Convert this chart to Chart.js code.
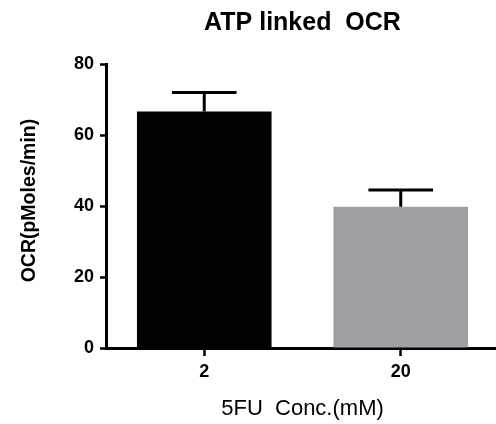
<!DOCTYPE html>
<html>
<head>
<meta charset="utf-8">
<title>ATP linked OCR</title>
<script src="https://cdn.jsdelivr.net/npm/chart.js@4/dist/chart.umd.min.js"></script>
<style>
  html, body { margin: 0; padding: 0; background: #fff; overflow: hidden; }
  #wrap { width: 499px; height: 424px; }
</style>
</head>
<body>
<div id="wrap"><canvas id="c" width="499" height="424"></canvas></div>
<script>
// Concentrations of 5FU (mM)
const categories = ['2', '20'];
// Mean ATP-linked OCR (pMoles/min)
const ocrMean = [66.6, 39.8];
// Upper error (SEM) for each mean
const ocrErr = [5.4, 4.7];
const barColors = ['#000000', '#a09fa4'];
const yTicks = [0, 20, 40, 60, 80];

const FONT = "'Liberation Sans', Arial, Helvetica, sans-serif";

// Upper-only error bars with a horizontal cap
const errorBars = {
  id: 'errorBars',
  afterDatasetsDraw(chart) {
    const ctx = chart.ctx;
    const meta = chart.getDatasetMeta(0);
    const yScale = chart.scales.y;
    ctx.save();
    ctx.strokeStyle = '#000';
    ctx.lineWidth = 3;
    ctx.lineCap = 'butt';
    meta.data.forEach((bar, i) => {
      const x = bar.x;
      const yTop = yScale.getPixelForValue(ocrMean[i] + ocrErr[i]);
      const yBase = yScale.getPixelForValue(ocrMean[i]);
      const half = bar.width * 0.24;
      ctx.beginPath();
      ctx.moveTo(x, yBase);
      ctx.lineTo(x, yTop);
      ctx.moveTo(x - half, yTop);
      ctx.lineTo(x + half, yTop);
      ctx.stroke();
    });
    ctx.restore();
  }
};

new Chart(document.getElementById('c'), {
  type: 'bar',
  data: {
    labels: categories,
    datasets: [{
      data: ocrMean,
      backgroundColor: barColors,
      borderWidth: 0,
      barPercentage: 0.685,
      categoryPercentage: 1.0
    }]
  },
  options: {
    responsive: false,
    animation: false,
    events: [],
    layout: { padding: 0 },
    plugins: {
      legend: { display: false },
      tooltip: { enabled: false },
      title: {
        display: true,
        text: 'ATP linked  OCR',
        fullSize: false,
        color: '#000',
        font: { family: FONT, size: 25, weight: 'bold' },
        padding: { top: 8, bottom: 26 }
      }
    },
    scales: {
      x: {
        offset: true,
        grid: {
          offset: false,
          drawOnChartArea: false,
          drawTicks: true,
          tickLength: 8,
          tickWidth: 2.5,
          tickColor: '#000'
        },
        border: { display: true, color: '#000', width: 3 },
        ticks: {
          color: '#000',
          padding: 5,
          font: { family: FONT, size: 18, weight: 'bold' }
        },
        title: {
          display: true,
          text: '5FU  Conc.(mM)',
          color: '#000',
          font: { family: FONT, size: 22, weight: 'normal' },
          padding: { top: 0, bottom: 2 }
        },
        afterFit(scale) { scale.height = 76; }
      },
      y: {
        min: 0,
        max: 80,
        afterBuildTicks(scale) { scale.ticks = yTicks.map(v => ({ value: v })); },
        grid: {
          drawOnChartArea: false,
          drawTicks: true,
          tickLength: 6,
          tickWidth: 2.5,
          tickColor: '#000'
        },
        border: { display: true, color: '#000', width: 3 },
        ticks: {
          color: '#000',
          padding: 6,
          font: { family: FONT, size: 18, weight: 'bold' }
        },
        title: {
          display: true,
          text: '  OCR(pMoles/min)',
          color: '#000',
          font: { family: FONT, size: 19.5, weight: 'bold' },
          padding: { top: 18, bottom: 0 }
        },
        afterFit(scale) { scale.width = 106; }
      }
    }
  },
  plugins: [errorBars]
});
</script>
</body>
</html>
